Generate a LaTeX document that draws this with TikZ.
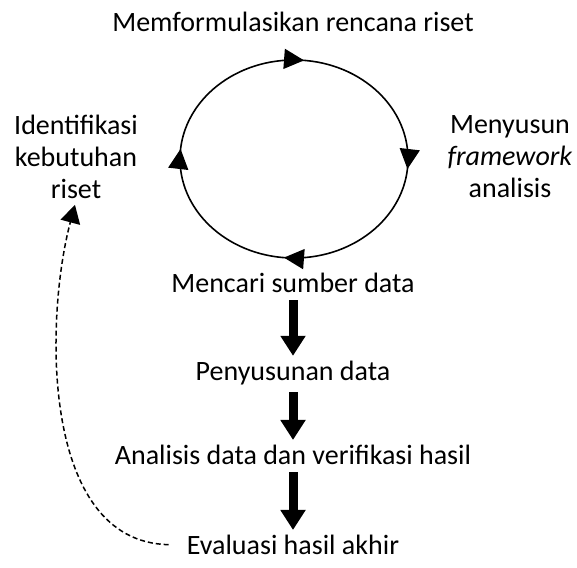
\documentclass[tikz,border=0pt]{standalone}
\usepackage{fontspec}
\setmainfont{Carlito}
\usetikzlibrary{arrows.meta,decorations.markings}

\tikzset{
  label/.style={inner sep=2pt, align=center, font=\fontsize{28}{32}\selectfont},
  bigarrow/.style={line width=9pt, -{Triangle[width=24pt,length=20pt]}, shorten <=5pt, shorten >=3pt},
  cycle/.style={line width=1.6pt, postaction={decorate}, decoration={markings,
      mark=between positions 0.015 and 0.9 step 0.25 with {\arrow{Triangle[width=20pt,length=20pt]}}}}
}

\begin{document}
\begin{tikzpicture}[x=1pt,y=1pt]
\useasboundingbox (0,0) rectangle (577,567);
\node[label] (plan) at (293,545) {Memformulasikan rencana riset};
\node[label] (ident) at (76,410) {Identifikasi\\kebutuhan\\riset};
\node[label] (frame) at (510,410) {Menyusun\\\textit{framework}\\analisis};
\node[label] (source) at (293,284) {Mencari sumber data};
\node[label] (arrange) at (293,194) {Penyusunan data};
\node[label] (analysis) at (293,112) {Analisis data dan verifikasi hasil};
\node[label] (evaluation) at (293,22) {Evaluasi hasil akhir};
\draw[cycle] (294,507) arc[start angle=90, end angle=-270, x radius=114, y radius=99];
\draw[bigarrow] (source) -- (arrange);
\draw[bigarrow] (arrange) -- (analysis);
\draw[bigarrow] (analysis) -- (evaluation);
\draw[line width=1.5pt, dash pattern=on 5pt off 3pt, -{Triangle[width=20pt,length=18pt]}, shorten <=16pt, shorten >=4pt] (evaluation.west) .. controls (40,25) and (45,250) .. (ident.south);
\end{tikzpicture}
\end{document}
